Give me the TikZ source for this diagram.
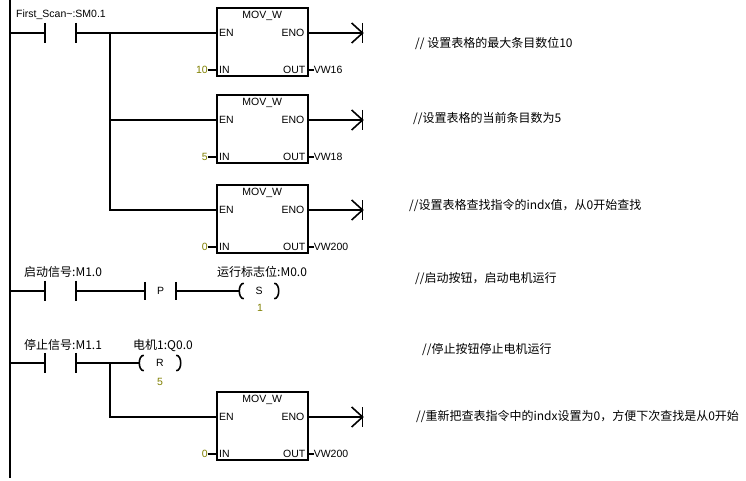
\documentclass[tikz,border=0pt]{standalone}
\usepackage{fontspec}
\setmainfont{Liberation Sans}
\newfontfamily\cjk{Noto Sans CJK SC}
\definecolor{olivenum}{RGB}{128,128,0}
\tikzset{
  wire/.style={line width=1.6pt, line cap=rect},
  movbox/.style={draw, line width=1.6pt, minimum width=91pt, minimum height=68pt, inner sep=0pt},
  contactnode/.style={minimum width=31pt, minimum height=20pt, inner sep=0pt, font=\fontsize{10.5}{12}\selectfont},
  coilnode/.style={minimum width=40pt, minimum height=15pt, inner sep=0pt, font=\fontsize{10.5}{12}\selectfont},
  lat/.style={inner sep=0pt, font=\fontsize{10.5}{12}\selectfont},
  numlbl/.style={inner sep=0pt, font=\fontsize{10.5}{12}\selectfont, text=olivenum},
  zh/.style={inner sep=0pt, anchor=base west, font=\cjk\fontsize{12}{14}\selectfont},
}
\newcommand\movbox[5]{%
  \node[movbox, anchor=north west] (#1) at (#2,#3) {};
  \node[lat, anchor=north] at ([yshift=-4pt]#1.north) {MOV\_W};
  \coordinate (#1-en) at ([yshift=-26pt]#1.north west);
  \coordinate (#1-eno) at ([yshift=-26pt]#1.north east);
  \coordinate (#1-in) at ([yshift=-63pt]#1.north west);
  \coordinate (#1-out) at ([yshift=-63pt]#1.north east);
  \coordinate (#1-end) at ([xshift=54pt]#1-eno);
  \coordinate (#1-inv) at ([xshift=-8pt]#1-in);
  \coordinate (#1-outv) at ([xshift=5pt]#1-out);
  \node[lat, anchor=west] at ([xshift=3pt]#1-en) {EN};
  \node[lat, anchor=east] at ([xshift=-4pt]#1-eno) {ENO};
  \node[lat, anchor=west] at ([xshift=3pt]#1-in) {IN};
  \node[lat, anchor=east] at ([xshift=-3pt]#1-out) {OUT};
  \draw[wire] (#1-eno) -- (#1-end);
  \draw[wire, line cap=butt] ([xshift=-11pt,yshift=10pt]#1-end) -- (#1-end) -- ([xshift=-11pt,yshift=-10pt]#1-end);
  \draw[wire, line cap=butt] ([yshift=10pt]#1-end) -- ([yshift=-10pt]#1-end);
  \draw[line width=1.6pt] (#1-inv) -- (#1-in);
  \draw[line width=1.6pt] (#1-out) -- (#1-outv);
  \node[numlbl, anchor=east] at (#1-inv) {#4};
  \node[lat, anchor=west] at (#1-outv) {#5};
}
\newcommand\plates[1]{%
  \draw[line width=1.6pt] (#1.north west) -- (#1.south west) (#1.north east) -- (#1.south east);
}
\newcommand\parens[1]{%
  \draw[line width=1.6pt] ([xshift=5pt]#1.north west) to[out=180,in=180] ([xshift=5pt]#1.south west);
  \draw[line width=1.6pt] ([xshift=-5pt]#1.north east) to[out=0,in=0] ([xshift=-5pt]#1.south east);
}
\begin{document}
\begin{tikzpicture}[x=1pt,y=-1pt]
\useasboundingbox (0,0) rectangle (746,481);
\fill[white] (0,0) rectangle (746,481);
% left power rail
\coordinate (railtop) at (10,0);
\coordinate (railbot) at (10,478);
\draw[line width=2.4pt] (railtop) -- (railbot);
% network 1
\node[contactnode] (c1) at (60.5,33) {};
\plates{c1}
\node[lat, anchor=west] (c1lbl) at (16,15) {First\_Scan\textasciitilde:SM0.1};
\coordinate (r1) at (10,33);
\coordinate (b1) at (110,33);
\coordinate (b2) at (110,120);
\coordinate (b3) at (110,210);
\movbox{m1}{216}{7}{10}{VW16}
\movbox{m2}{216}{94}{5}{VW18}
\movbox{m3}{216}{184}{0}{VW200}
\draw[wire] (r1) -- (c1.west);
\draw[wire] (c1.east) -- (m1-en);
\draw[wire] (b1) -- (b3) -- (m3-en);
\draw[wire] (b2) -- (m2-en);
% network 2
\coordinate (r2) at (10,291);
\node[contactnode] (c2) at (60.5,291) {};
\plates{c2}
\node[zh] at (24,276.6) {启动信号:M1.0};
\node[contactnode, minimum height=18pt] (p1) at (160.5,291) {P};
\plates{p1}
\node[coilnode] (s1) at (259,291) {S};
\parens{s1}
\node[zh] at (217,276.6) {运行标志位:M0.0};
\node[numlbl] at (260,308) {1};
\draw[wire] (r2) -- (c2.west);
\draw[wire] (c2.east) -- (p1.west);
\draw[wire] (p1.east) -- (s1.west);
% network 3
\coordinate (r3) at (10,363);
\node[contactnode] (c3) at (60.5,363) {};
\plates{c3}
\node[zh] at (24,349.6) {停止信号:M1.1};
\node[coilnode, minimum width=42pt] (r1c) at (160,363) {R};
\parens{r1c}
\node[zh] at (133,349.6) {电机1:Q0.0};
\node[numlbl] at (160,382) {5};
\coordinate (b4) at (110,363);
\movbox{m4}{216}{391}{0}{VW200}
\draw[wire] (r3) -- (c3.west);
\draw[wire] (c3.east) -- (r1c.west);
\draw[wire] (b4) |- (m4-en);
% comments
\node[zh] at (415,47.6) {// 设置表格的最大条目数位10};
\node[zh] at (413,122.6) {//设置表格的当前条目数为5};
\node[zh] at (409,209.6) {//设置表格查找指令的indx值，从0开始查找};
\node[zh] at (415,282.6) {//启动按钮，启动电机运行};
\node[zh] at (422,353.6) {//停止按钮停止电机运行};
\node[zh] at (416,420.6) {//重新把查表指令中的indx设置为0，方便下次查找是从0开始};
\end{tikzpicture}
\end{document}
